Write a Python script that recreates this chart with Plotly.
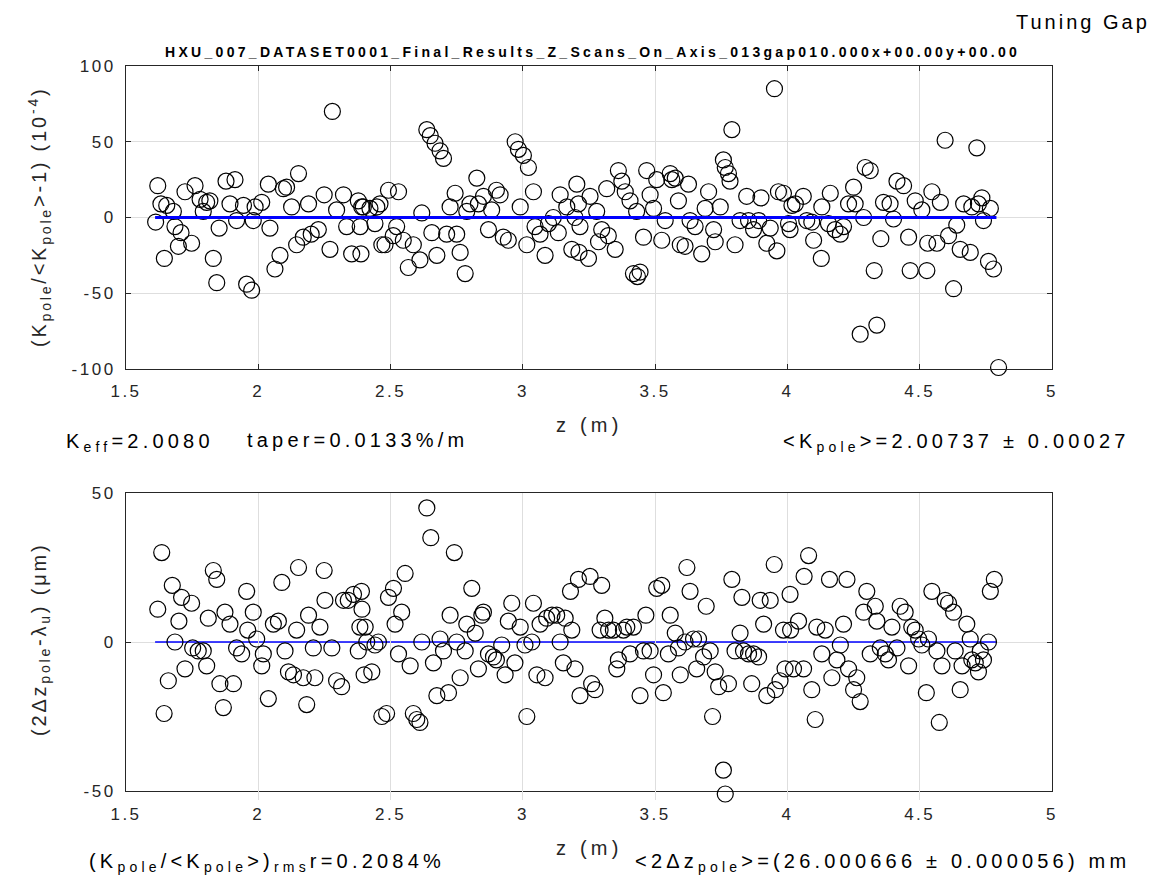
import plotly.graph_objects as go

# ---------------- data ----------------
z_top = [1.612, 1.620, 1.632, 1.645, 1.654, 1.679, 1.685, 1.698, 1.708, 1.723, 1.748, 1.761, 1.780, 1.792,
         1.805, 1.817, 1.830, 1.843, 1.852, 1.878, 1.893, 1.912, 1.918, 1.944, 1.956, 1.975, 1.981, 1.988,
         2.013, 2.038, 2.044, 2.063, 2.082, 2.095, 2.107, 2.126, 2.145, 2.152, 2.170, 2.190, 2.200, 2.227,
         2.249, 2.271, 2.280, 2.296, 2.322, 2.334, 2.353, 2.378, 2.391,
         2.385, 2.388, 2.397, 2.422, 2.441, 2.448, 2.460, 2.467, 2.479, 2.492, 2.510, 2.523, 2.530, 2.548,
         2.567, 2.586, 2.611, 2.618, 2.637, 2.650, 2.656, 2.668, 2.675, 2.687, 2.700, 2.712, 2.725, 2.744,
         2.750, 2.763, 2.782, 2.788, 2.800, 2.826, 2.832, 2.851, 2.870, 2.882, 2.900, 2.914, 2.926, 2.945,
         2.971, 2.983, 2.990, 3.002, 3.015, 3.021, 3.040, 3.046, 3.065, 3.084, 3.097, 3.115, 3.134, 3.141,
         3.166, 3.185, 3.197, 3.204,
         3.210, 3.216, 3.212, 3.248, 3.254, 3.279, 3.286, 3.298, 3.317, 3.323, 3.349, 3.361, 3.374, 3.387,
         3.405, 3.418, 3.430, 3.433, 3.443, 3.456, 3.468, 3.481, 3.494, 3.506, 3.525, 3.538, 3.557, 3.563,
         3.576, 3.588, 3.595, 3.613, 3.626, 3.632, 3.651, 3.676, 3.689, 3.702, 3.721, 3.727, 3.746, 3.758,
         3.765, 3.777, 3.783, 3.790, 3.802, 3.821, 3.846, 3.853, 3.872, 3.891, 3.900, 3.922, 3.935, 3.951,
         3.960, 3.966, 3.985, 4.004, 4.017,
         4.010, 4.030, 4.060, 4.073, 4.099, 4.092, 4.128, 4.130, 4.155, 4.162, 4.180, 4.200, 4.212, 4.231,
         4.250, 4.256, 4.275, 4.288, 4.294, 4.313, 4.328, 4.338, 4.353, 4.363, 4.388, 4.401, 4.414, 4.439,
         4.458, 4.464, 4.483, 4.508, 4.527, 4.530, 4.546, 4.565, 4.578, 4.596, 4.609, 4.628, 4.640, 4.653,
         4.666, 4.691, 4.697, 4.716, 4.722, 4.735, 4.741, 4.760, 4.767, 4.779, 4.798]
dk_top = [-3, 21, 9, -27, 8, 4, -6, -19, -10, 17, -17, 21, 12, 4,
          10, 11, -27, -43, -7, 24, 9, 25, -2, 8, -44, -48, -2, 7,
          10, 22, -7, -34, -25, 19, 20, 7, -18, 29, -13, 9, -11, -8,
          15, -21, 70, 5, 15, -6, -24, 11, 7,
          -6, -24, 7, 6, -4, 7, 9, -18, -18, 18, -12, -6, 17, -15,
          -33, -18, -28, 3, 58, 54, -10, 49, -25, 44, 39, -11, 7, 16,
          -11, -23, -37, 4, 9, 26, 9, 14, -8, 5, 18, 15, -13, -15,
          50, 45, 7, 41, -18, 33, 17, -6, -11, -25, -4, 0, -10, 15,
          7, -21, 0, 22,
          9, -6, -23, -27, 14, 4, -16, -8, 19, -12, -21, 31, 24, 17,
          11, -37, 4, -39, -36, -13, 31, 15, 6, 25, -15, -2, 29, 25,
          26, 11, -18, -19, 22, -2, -6, -24, 6, 17, -8, -16, 7, 38,
          33, 29, 24, 58, -18, -2, 14, -2, -8, -2, 13, -17, -7, 85,
          -22, 17, 16, -4, 8,
          -8, 9, 14, -2, -15, -3, -27, 7, -4, 16, -8, -11, -6, 9,
          20, 9, -77, 0, 33, 31, -35, -71, -14, 10, 9, -1, 24, 21,
          -13, -35, 11, 5, -35, -17, 17, -17, 10, 51, -12, -47, -5, -21,
          9, -23, 7, 46, 9, 13, -2, -29, 6, -34, -99]

z_bot = [1.620, 1.635, 1.644, 1.660, 1.675, 1.685, 1.700, 1.710, 1.723, 1.748, 1.752, 1.773, 1.792, 1.805,
         1.811, 1.830, 1.843, 1.855, 1.868, 1.874, 1.893, 1.906, 1.918, 1.937, 1.956, 1.960, 1.981, 1.994,
         2.013, 2.019, 2.038, 2.057, 2.076, 2.089, 2.101, 2.114, 2.133, 2.145, 2.152, 2.170, 2.183, 2.190,
         2.208, 2.214, 2.233, 2.249, 2.252, 2.278, 2.296, 2.315, 2.322, 2.340, 2.360, 2.378, 2.384, 2.400,
         2.390, 2.392, 2.404, 2.410, 2.429, 2.441, 2.454, 2.467, 2.485, 2.492, 2.511, 2.517, 2.530, 2.542,
         2.555, 2.574, 2.586, 2.599, 2.611, 2.618, 2.637, 2.652, 2.662, 2.675, 2.687, 2.700, 2.719, 2.725,
         2.741, 2.750, 2.763, 2.782, 2.788, 2.807, 2.820, 2.832, 2.845, 2.851, 2.870, 2.889, 2.900, 2.920,
         2.933, 2.945, 2.958, 2.970, 2.990, 3.008, 3.015, 3.034, 3.040, 3.053, 3.065, 3.084, 3.090, 3.110,
         3.128, 3.141, 3.153, 3.160, 3.185, 3.180, 3.197, 3.210, 3.216,
         3.254, 3.260, 3.273, 3.292, 3.298, 3.310, 3.324, 3.342, 3.355, 3.361, 3.380, 3.393, 3.405, 3.418,
         3.443, 3.456, 3.465, 3.481, 3.494, 3.506, 3.525, 3.531, 3.550, 3.557, 3.576, 3.588, 3.595, 3.613,
         3.620, 3.632, 3.645, 3.657, 3.664, 3.683, 3.693, 3.708, 3.717, 3.727, 3.740, 3.758, 3.765, 3.777,
         3.790, 3.802, 3.821, 3.828, 3.834, 3.853, 3.865, 3.872, 3.891, 3.897, 3.910, 3.922, 3.935, 3.950,
         3.954, 3.972, 3.985, 3.991, 4.010,
         4.012, 4.023, 4.042, 4.061, 4.063, 4.080, 4.092, 4.105, 4.111, 4.130, 4.143, 4.159, 4.168, 4.187,
         4.200, 4.212, 4.225, 4.231, 4.250, 4.262, 4.275, 4.288, 4.300, 4.313, 4.332, 4.338, 4.351, 4.370,
         4.382, 4.395, 4.414, 4.426, 4.445, 4.458, 4.470, 4.483, 4.496, 4.508, 4.525, 4.533, 4.546, 4.565,
         4.574, 4.584, 4.596, 4.609, 4.628, 4.634, 4.653, 4.660, 4.678, 4.691, 4.697, 4.710, 4.722, 4.729,
         4.741, 4.760, 4.767, 4.782]
dz_bot = [11, 30, -24, -13, 19, 0, 7, 15, -9, 13, -2, -3, -3, -8,
          8, 24, 21, -14, -22, 10, 6, -14, -2, -4, 17, 4, 10, 1,
          -8, -4, -19, 6, 7, 20, -3, -10, -11, 4, 25, -12, -21, 9,
          -2, -12, 5, 24, 14, -2, -13, -15, 14, 14, 16, -3, 5, -11,
          17, 11, 5, 0, -10, -1, 0, -25, -24, 15, 18, 6, -4, 10,
          23, -8, -24, -26, -27, 0, 45, 35, -7, -18, 1, -3, -17, 9,
          30, 0, -12, -3, 6, 18, 3, -9, 9, 10, -4, -5, -6, -1,
          -11, 7, 13, -7, 5, -1, -25, 0, 13, -11, 6, -12, 8, 9,
          9, 0, -7, 8, 4, 17, -9, 21, -18,
          22, -14, -16, 4, 19, 8, 4, 4, -9, -6, 4, 5, -4, 5,
          -18, -3, 9, -3, -11, 18, 19, -17, -4, 9, 3, -2, -11, 0,
          25, 17, 1, -9, 1, -5, 12, -3, -25, -10, -15, -43, -51, -14,
          21, -3, 3, 15, -3, -4, -14, -4, -5, 14, 6, -18, 14, 26,
          -16, -13, 4, -9, 16,
          4, -9, 7, -9, 22, 29, -16, -26, 5, -4, 4, 21, -12, -6,
          -1, 6, 21, -9, -16, -12, -20, 10, 17, -4, 12, 7, -2, -4,
          -6, 5, -2, 12, 10, -8, 5, 4, 1, -1, -17, 1, 17, -3,
          -27, -8, 14, 13, 10, -3, -16, -8, 6, 1, -6, -7, -10, -3,
          -6, 0, 17, 21]

fit_z = [1.61, 4.79]
fit_top = [0, 0]
fit_bot = [0, 0]

x_tick_vals = [1.5, 2, 2.5, 3, 3.5, 4, 4.5, 5]
x_tick_labels = ["1.5", "2", "2.5", "3", "3.5", "4", "4.5", "5"]
y_top_vals = [-100, -50, 0, 50, 100]
y_top_labels = ["-100", "-50", "0", "50", "100"]
y_bot_vals = [-50, 0, 50]
y_bot_labels = ["-50", "0", "50"]

title_txt = "HXU_007_DATASET0001_Final_Results_Z_Scans_On_Axis_013gap010.000x+00.00y+00.00"

# ---------------- layout helpers ----------------
W, H = 1160, 894
OX, OY = 8, 8   # page offset of the figure inside the browser window
FONT = "Liberation Sans, Arial, Helvetica, sans-serif"
TXT = "#262626"


def px(x):
    return (x - OX) / W


def py(y):
    return 1 - (y - OY) / H


def sp(t, ls):
    return '<span style="letter-spacing:%spx">%s</span>' % (ls, t)


marker = dict(symbol="circle-open", size=16, color="black", line=dict(width=1.2, color="black"))

fig = go.Figure()
fig.add_trace(go.Scatter(x=z_top, y=dk_top, mode="markers", marker=marker,
                         xaxis="x", yaxis="y", cliponaxis=False, hoverinfo="skip"))
fig.add_trace(go.Scatter(x=fit_z, y=fit_top, mode="lines", line=dict(color="#0000ff", width=3),
                         xaxis="x", yaxis="y", hoverinfo="skip"))
# bottom markers drawn on an invisible twin scale that extends a little below -50
fig.add_trace(go.Scatter(x=z_bot, y=dz_bot, mode="markers", marker=marker,
                         xaxis="x2", yaxis="y3", cliponaxis=False, hoverinfo="skip"))
fig.add_trace(go.Scatter(x=fit_z, y=fit_bot, mode="lines", line=dict(color="#0000ff", width=1.5),
                         xaxis="x2", yaxis="y2", hoverinfo="skip"))

TLS = 2.5  # tick label letter spacing
xdom = [px(126), px(1052)]
common = dict(showline=True, linecolor=TXT, linewidth=1, mirror="ticks", ticks="inside",
              ticklen=5, tickcolor=TXT, showgrid=True, gridcolor="#dedede", gridwidth=1,
              zeroline=False, automargin=False, tickfont=dict(family=FONT, size=17, color=TXT))

BOT_TOP, BOT_BOT = 493, 791
ppu = (BOT_BOT - BOT_TOP) / 100.0
EXT = 3.0

fig.update_layout(
    width=W, height=H, margin=dict(l=0, r=0, t=0, b=0, pad=0),
    paper_bgcolor="white", plot_bgcolor="rgba(0,0,0,0)", showlegend=False,
    xaxis=dict(domain=xdom, range=[1.5, 5], anchor="y", tickvals=x_tick_vals,
               ticktext=[sp(t, TLS) for t in x_tick_labels], ticklabelstandoff=7, **common),
    yaxis=dict(domain=[py(369), py(66)], range=[-100, 100], anchor="x", tickvals=y_top_vals,
               ticktext=[sp(t, TLS) for t in y_top_labels], ticklabelstandoff=6, **common),
    xaxis2=dict(domain=xdom, range=[1.5, 5], anchor="y2", tickvals=x_tick_vals,
                ticktext=[sp(t, TLS) for t in x_tick_labels], ticklabelstandoff=8, **common),
    yaxis2=dict(domain=[py(BOT_BOT), py(BOT_TOP)], range=[-50, 50], anchor="x2", tickvals=y_bot_vals,
                ticktext=[sp(t, TLS) for t in y_bot_labels], ticklabelstandoff=6, **common),
    yaxis3=dict(domain=[py(BOT_BOT + EXT * ppu), py(BOT_TOP)], range=[-50 - EXT, 50], anchor="x2",
                visible=False, showgrid=False, zeroline=False, automargin=False),
)

LS = 4.2
afont = dict(family=FONT, size=20, color="black")
anns = [
    dict(text=sp("Tuning Gap", 3.0), x=px(1152), y=py(22), xanchor="right", yanchor="middle", font=afont),
    dict(text="<b>" + sp(title_txt, 3.3) + "</b>", x=px(592), y=py(52), xanchor="center", yanchor="middle",
         font=dict(family=FONT, size=14, color="black")),
    dict(text=sp("(K<sub>pole</sub>/&lt;K<sub>pole</sub>&gt;-1) (10<sup>-4</sup>)", 2.8), textangle=-90,
         x=px(40), y=py(217), xanchor="center", yanchor="middle", font=dict(family=FONT, size=20, color=TXT)),
    dict(text=sp("(2Δz<sub>pole</sub>-λ<sub>u</sub>) (μm)", 2.8), textangle=-90,
         x=px(40), y=py(640), xanchor="center", yanchor="middle", font=dict(family=FONT, size=20, color=TXT)),
    dict(text=sp("z (m)", LS), x=px(590), y=py(425), xanchor="center", yanchor="middle",
         font=dict(family=FONT, size=20, color=TXT)),
    dict(text=sp("K<sub>eff</sub>=2.0080", LS), x=px(64), y=py(442), xanchor="left", yanchor="middle", font=afont),
    dict(text=sp("taper=0.0133%/m", LS), x=px(245), y=py(440), xanchor="left", yanchor="middle", font=afont),
    dict(text=sp("&lt;K<sub>pole</sub>&gt;=2.00737 ± 0.00027", LS), x=px(1132), y=py(442),
         xanchor="right", yanchor="middle", font=afont),
    dict(text=sp("(K<sub>pole</sub>/&lt;K<sub>pole</sub>&gt;)<sub>rms</sub>r=0.2084%", LS), x=px(87), y=py(862),
         xanchor="left", yanchor="middle", font=afont),
    dict(text=sp("z (m)", LS), x=px(590), y=py(848), xanchor="center", yanchor="middle",
         font=dict(family=FONT, size=20, color=TXT)),
    dict(text=sp("&lt;2Δz<sub>pole</sub>&gt;=(26.000666 ± 0.000056) mm", LS), x=px(1132), y=py(862),
         xanchor="right", yanchor="middle", font=afont),
]
for a in anns:
    a.update(xref="paper", yref="paper", showarrow=False)
fig.update_layout(annotations=anns)

fig.write_html("out.html")
